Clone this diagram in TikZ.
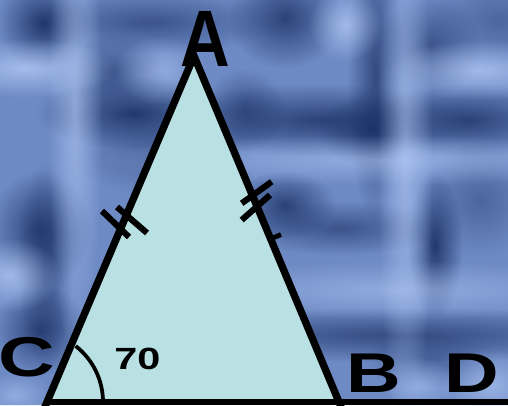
\documentclass[tikz,border=0pt]{standalone}
\usepackage{fontspec}
\newfontfamily\labfont{Liberation Sans}
\usetikzlibrary{calc,fadings}
\definecolor{bgmid}{RGB}{110,138,196}
\definecolor{bgdark}{RGB}{24,48,100}
\definecolor{bglight}{RGB}{182,206,250}
\definecolor{trifill}{RGB}{185,224,226}
\tikzfading[name=fuzzy, inner color=transparent!0, outer color=transparent!100]
\newcommand{\myblob}[6]{\fill[#1, fill opacity=#6, path fading=fuzzy, fit fading=true] (#2,#3) ellipse[x radius=2.3*#4, y radius=2.3*#5];}
\begin{document}
\begin{tikzpicture}[x=0.75pt,y=-0.75pt,
  lbl/.style={inner sep=0pt, text=black},
  side/.style={line width=5.5pt, line join=miter, draw=black},
  baseln/.style={line width=4.5pt, draw=black},
  tickmark/.style={line width=4.6pt, draw=black},
  anglearc/.style={line width=2.8pt, draw=black}]
\useasboundingbox (0,0) rectangle (508,405);
\clip (0,0) rectangle (508,405);
\fill[bgmid] (0,0) rectangle (508,405);
% dark blobs
\myblob{bgdark}{43}{23}{20}{20}{0.9}
\myblob{bgdark}{150}{22}{55}{14}{0.6}
\myblob{bgdark}{110}{72}{25}{16}{0.6}
\myblob{bgdark}{133}{113}{42}{16}{0.9}
\myblob{bgdark}{285}{18}{25}{22}{0.8}
\myblob{bgdark}{375}{75}{12}{65}{0.7}
\myblob{bgdark}{320}{120}{70}{16}{0.8}
\myblob{bgdark}{370}{130}{22}{16}{0.8}
\myblob{bgdark}{470}{120}{45}{16}{0.8}
\myblob{bgdark}{430}{45}{22}{22}{0.6}
\myblob{bgdark}{500}{20}{30}{20}{0.4}
\myblob{bgdark}{245}{110}{18}{18}{0.6}
\myblob{bgdark}{40}{230}{22}{26}{0.8}
\myblob{bgdark}{45}{265}{12}{45}{0.6}
\myblob{bgdark}{285}{205}{22}{15}{0.8}
\myblob{bgdark}{340}{228}{45}{12}{0.6}
\myblob{bgdark}{435}{245}{12}{32}{0.9}
\myblob{bgdark}{400}{335}{115}{12}{0.7}
\myblob{bgdark}{40}{330}{20}{20}{0.8}
\myblob{bgdark}{430}{360}{30}{12}{0.4}
\myblob{bgdark}{160}{150}{40}{20}{0.4}
\myblob{bgdark}{480}{200}{25}{25}{0.4}
% light blobs
\myblob{bglight}{75}{110}{12}{110}{0.6}
\myblob{bglight}{25}{68}{40}{13}{0.75}
\myblob{bglight}{345}{25}{16}{16}{0.7}
\myblob{bglight}{405}{160}{12}{125}{0.6}
\myblob{bglight}{480}{70}{40}{13}{0.7}
\myblob{bglight}{380}{160}{125}{11}{0.5}
\myblob{bglight}{10}{275}{22}{16}{0.7}
\myblob{bglight}{400}{290}{100}{13}{0.5}
\myblob{bglight}{490}{385}{22}{16}{0.6}
\myblob{bglight}{420}{385}{16}{12}{0.5}
\myblob{bglight}{160}{70}{20}{15}{0.5}
\myblob{bglight}{15}{395}{16}{10}{0.5}
% geometry
\coordinate (A) at (194,56);
\coordinate (C) at (47,402);
\coordinate (B) at (339,402);
\coordinate (D) at (508,402);
\coordinate (Cx) at ($(A)!1.025!(C)$);
\coordinate (Bx) at ($(A)!1.025!(B)$);
\coordinate (arcstart) at (103,402);
\fill[trifill] (A) -- (B) -- (C) -- cycle;
\draw[anglearc] (arcstart) arc[start angle=0, end angle=-52, radius=71];
% equal-side ticks
\draw[tickmark] (102,211) -- (129,237);
\draw[tickmark] (117,207) -- (147,233);
\draw[tickmark] (241.7,203.3) -- (271.7,181.7);
\draw[tickmark] (241.7,220) -- (270,195);
\draw[line width=3.6pt] (270.5,239) -- (281,234.5);
% sides
\draw[side] (Cx) -- (A) -- (Bx);
\draw[baseln] (C) -- (D);
% labels
\node[lbl, font=\labfont\bfseries\fontsize{60}{60}\selectfont] (lA) at (205,39) {\scalebox{0.86}[1]{A}};
\node[lbl, font=\labfont\bfseries\fontsize{42}{42}\selectfont] (lC) at (27,357.5) {\scalebox{1.4}[1]{C}};
\node[lbl, font=\labfont\bfseries\fontsize{42}{42}\selectfont] (lB) at (373.5,373) {\scalebox{1.35}[1]{B}};
\node[lbl, font=\labfont\bfseries\fontsize{42}{42}\selectfont] (lD) at (471.5,373) {\scalebox{1.35}[1]{D}};
\node[lbl, font=\labfont\bfseries\fontsize{23}{23}\selectfont] (l70) at (137.5,359) {\scalebox{1.35}[1]{70}};
\end{tikzpicture}
\end{document}
